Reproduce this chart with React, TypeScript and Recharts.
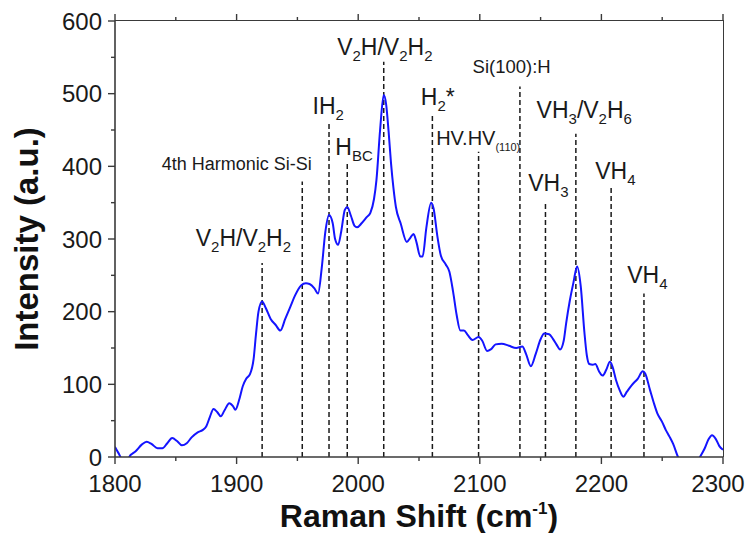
import { LineChart, Line, XAxis, YAxis, ReferenceLine, ReferenceDot } from "recharts";

// Raman spectrum
const shift = [
  1800, 1803, 1806, 1810, 1813, 1817, 1822, 1826, 1830, 1835, 1839, 1843, 1847, 1851, 1855, 1859,
  1863, 1868, 1872, 1875, 1878, 1881, 1884, 1887, 1890, 1894, 1897, 1899, 1902, 1905, 1908, 1911,
  1914, 1916, 1918, 1921, 1924, 1928, 1932, 1936, 1940, 1944, 1948, 1953, 1957, 1960, 1964, 1967,
  1970, 1973, 1976, 1979, 1981, 1983.5, 1986, 1989, 1991, 1994, 1997, 1999, 2003, 2007, 2010, 2013,
  2015, 2018, 2021, 2023, 2025, 2027, 2029, 2031, 2035, 2040, 2043, 2045.5, 2048, 2051, 2053, 2056,
  2060, 2062, 2065, 2068, 2072, 2075, 2078, 2081, 2084, 2087, 2090, 2094, 2099, 2102, 2106, 2109,
  2113, 2118, 2124, 2130, 2135, 2138, 2142, 2146, 2150, 2153, 2157, 2160, 2163, 2166, 2169, 2171,
  2174, 2177, 2180, 2183, 2186, 2188, 2190, 2193, 2195, 2198, 2201, 2204, 2207, 2209, 2212, 2215,
  2218, 2221, 2225, 2230, 2234, 2236, 2240, 2243, 2246, 2250, 2253, 2256, 2259, 2263, 2267, 2272,
  2277, 2281, 2285, 2288, 2291, 2294, 2297, 2300,
];
const intensity = [
  14, 5, -3, -3, 3, 8, 17, 21, 18, 12, 12, 19, 26, 22, 16, 19,
  27, 34, 37, 42, 55, 66, 62, 56, 64, 74, 70, 65, 78, 97, 108, 114,
  135, 170, 200, 214, 205, 190, 182, 174, 190, 206, 222, 236, 239, 238, 232, 225,
  260, 310, 333, 322, 300, 292, 310, 340, 344, 332, 318, 316, 322, 330, 336, 355,
  381, 450, 498, 485, 448, 404, 370, 344, 321, 296, 302, 307, 295, 276, 276, 315,
  350, 342, 305, 277, 265, 255, 228, 195, 174, 174, 168, 161, 165, 160, 146, 148,
  155, 156, 153, 150, 152, 142, 125, 142, 162, 170, 169, 163, 155, 148, 160, 184,
  215, 240, 262, 235, 172, 140, 128, 127, 128, 118, 112, 120, 131, 125, 106, 92,
  83, 90, 99, 108, 118, 115, 92, 75, 60, 48, 37, 28, 18, 0, -12, -15,
  -10, 0, 12, 24, 30, 25, 15, 10,
];

const xTicks = [1800, 1850, 1900, 1950, 2000, 2050, 2100, 2150, 2200, 2250, 2300];
const yTicks = [0, 50, 100, 150, 200, 250, 300, 350, 400, 450, 500, 550, 600];

// dashed peak markers
const peakShift = [1921, 1954, 1976, 1991, 2021, 2061, 2099, 2133, 2154, 2179, 2208, 2235];
const peakTop = [267, 379, 461, 404, 544, 470, 420, 510, 351, 445, 372, 225];

// annotations, "_" = subscript
const labelText = [
  ["V", "_2", "H/V", "_2", "H", "_2"],
  ["4th Harmonic Si-Si"],
  ["IH", "_2"],
  ["H", "_BC"],
  ["V", "_2", "H/V", "_2", "H", "_2"],
  ["H", "_2", "*"],
  ["HV.HV", "_(110)"],
  ["Si(100):H"],
  ["VH", "_3", "/V", "_2", "H", "_6"],
  ["VH", "_3"],
  ["VH", "_4"],
  ["VH", "_4"],
];
const labelShift = [1905.6, 1900.2, 1975.4, 1996.6, 2021.9, 2065.4, 2098.7, 2126.2, 2185.9, 2156.4, 2211.5, 2237.8];
const labelY = [290, 395, 472, 415, 553, 484, 429, 528, 466, 366, 383, 239];
const labelSize = [23, 18, 23, 23, 23, 23, 20, 18.5, 23, 23, 23, 23];
const labelSub = [15, 12, 15, 15, 15, 15, 11, 12, 15, 15, 15, 15];

const data = shift.map((x, i) => ({ x, y: intensity[i] }));

const FONT = "Arial, 'Liberation Sans', sans-serif";
const AXIS = "#3a3a3a";
const INK = "#1a1a1a";

const W = 745;
const H = 525;
const MARGIN = { top: 13, right: 30, left: 0, bottom: 0 };
const X_AXIS_H = 76;
const Y_AXIS_W = 107;
const PLOT_W = W - MARGIN.left - MARGIN.right - Y_AXIS_W;
const PLOT_H = H - MARGIN.top - MARGIN.bottom - X_AXIS_H;

// bottom axis tick; also mirrors the tick on the top edge
const BottomTick = (p: any) => {
  const v = p.payload.value;
  const major = v % 100 === 0;
  const len = major ? 7 : 4;
  const top = p.y - PLOT_H;
  // keep the last label inside the page
  const tx = v === 2300 ? p.x - 5 : p.x;
  return (
    <g>
      <line x1={p.x} x2={p.x} y1={p.y} y2={p.y + len} stroke={AXIS} strokeWidth={1.4} />
      <line x1={p.x} x2={p.x} y1={top - len} y2={top} stroke={AXIS} strokeWidth={1.4} />
      {major && (
        <text x={tx} y={p.y + 18} dy="0.71em" textAnchor="middle" fontSize={24} fill={INK} fontFamily={FONT}>
          {v}
        </text>
      )}
    </g>
  );
};

const LeftTick = (p: any) => {
  const major = p.payload.value % 100 === 0;
  return (
    <g>
      <line x1={p.x - (major ? 7 : 4)} x2={p.x} y1={p.y} y2={p.y} stroke={AXIS} strokeWidth={1.4} />
      {major && (
        <text x={p.x - 13} y={p.y} dy="0.36em" textAnchor="end" fontSize={24} fill={INK} fontFamily={FONT}>
          {p.payload.value}
        </text>
      )}
    </g>
  );
};

const XTitle = (p: any) => {
  const vb = p.viewBox;
  return (
    <text x={vb.x + vb.width / 2} y={vb.y + 70} textAnchor="middle" fontSize={32} fontWeight="bold" fill="#111" fontFamily={FONT}>
      Raman Shift (cm
      <tspan fontSize={17} dy={-13}>-1</tspan>
      <tspan dy={13}>)</tspan>
    </text>
  );
};

const YTitle = (p: any) => {
  const vb = p.viewBox;
  const cy = vb.y + vb.height / 2;
  return (
    <text x={30} y={cy} transform={`rotate(-90, 30, ${cy})`} textAnchor="middle" fontSize={33} fontWeight="bold" fill="#111" fontFamily={FONT}>
      Intensity (a.u.)
    </text>
  );
};

const renderLabel = (i: number) => (p: any) => {
  const vb = p.viewBox;
  const size = labelSize[i];
  const drop = Math.round(size * 0.28);
  let offset = 0;
  return (
    <text x={vb.x} y={vb.y} textAnchor="middle" fontSize={size} fill={INK} fontFamily={FONT}>
      {labelText[i].map((part, k) => {
        const sub = part.startsWith("_");
        const target = sub ? drop : 0;
        const dy = target - offset;
        offset = target;
        return (
          <tspan key={k} dy={dy} fontSize={sub ? labelSub[i] : size}>
            {sub ? part.slice(1) : part}
          </tspan>
        );
      })}
    </text>
  );
};

export default function App() {
  return (
    <div style={{ width: 737, height: H, position: "relative" }}>
      <LineChart width={W} height={H} data={data} margin={MARGIN} style={{ overflow: "visible" }}>
        <XAxis
          dataKey="x"
          type="number"
          domain={[1800, 2300]}
          ticks={xTicks}
          interval={0}
          allowDataOverflow
          height={X_AXIS_H}
          tickSize={0}
          tickMargin={0}
          tickLine={false}
          axisLine={{ stroke: AXIS, strokeWidth: 1.6 }}
          tick={BottomTick}
          label={{ content: XTitle }}
        />
        <YAxis
          type="number"
          domain={[0, 600]}
          ticks={yTicks}
          interval={0}
          allowDataOverflow
          width={Y_AXIS_W}
          tickSize={0}
          tickMargin={0}
          tickLine={false}
          axisLine={{ stroke: AXIS, strokeWidth: 1.6 }}
          tick={LeftTick}
          label={{ content: YTitle }}
        />
        {peakShift.map((x, i) => (
          <ReferenceLine
            key={`m${i}`}
            segment={[{ x, y: 0 }, { x, y: peakTop[i] }]}
            stroke={INK}
            strokeWidth={1.5}
            strokeDasharray="5 3"
          />
        ))}
        <Line
          type="monotone"
          dataKey="y"
          stroke="#1414ff"
          strokeWidth={2}
          dot={false}
          isAnimationActive={false}
        />
        {labelShift.map((x, i) => (
          <ReferenceDot
            key={`l${i}`}
            x={x}
            y={labelY[i]}
            r={0}
            fill="none"
            stroke="none"
            label={{ content: renderLabel(i) }}
          />
        ))}
      </LineChart>
      {/* top and right edges of the frame */}
      <div
        style={{
          position: "absolute",
          left: MARGIN.left + Y_AXIS_W,
          top: MARGIN.top - 0.8,
          width: PLOT_W + 0.8,
          height: PLOT_H + 0.8,
          boxSizing: "border-box",
          borderTop: `1.6px solid ${AXIS}`,
          borderRight: `1.6px solid ${AXIS}`,
          pointerEvents: "none",
        }}
      />
    </div>
  );
}
